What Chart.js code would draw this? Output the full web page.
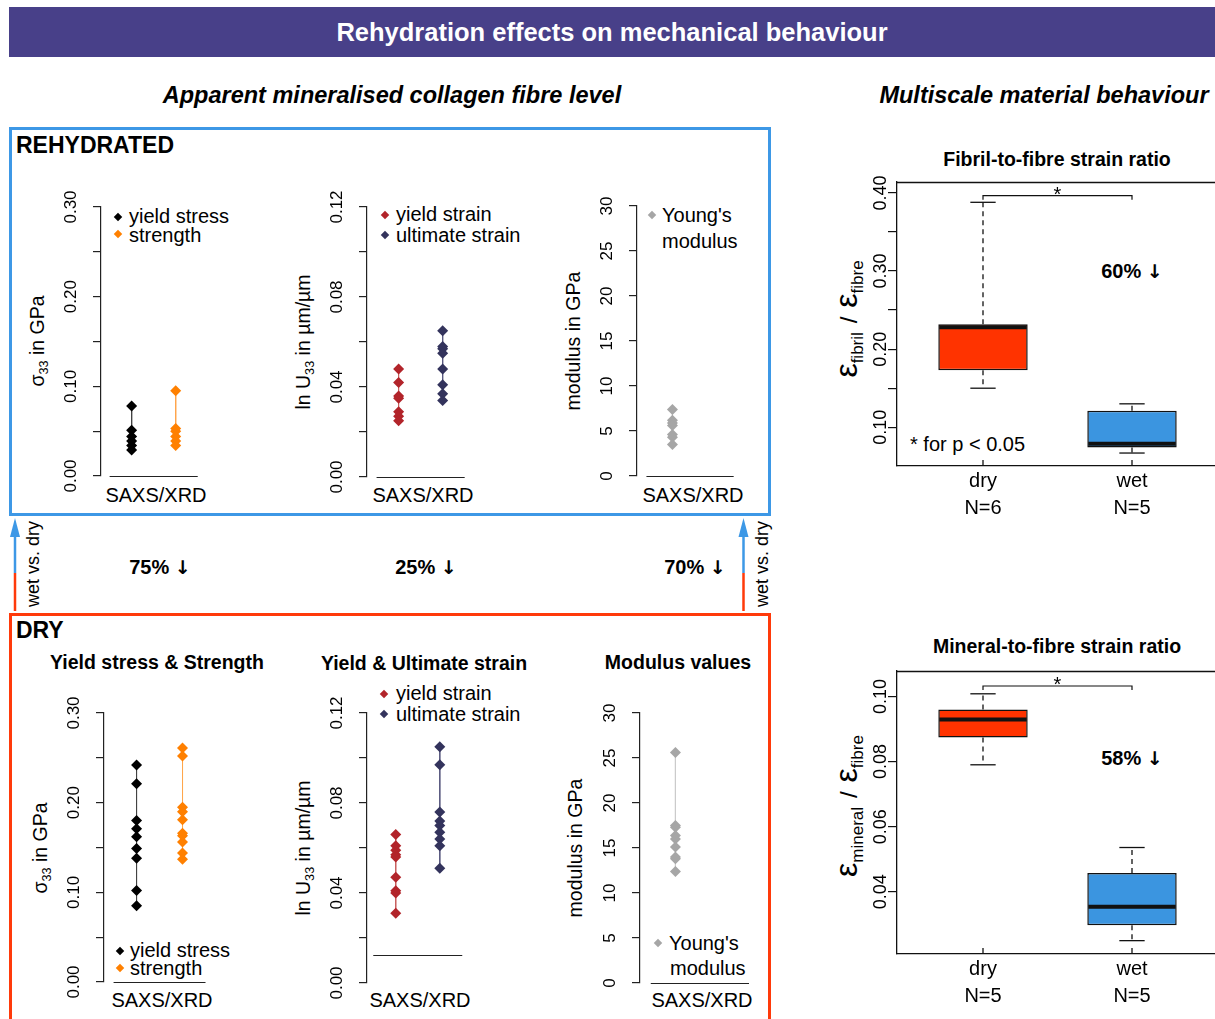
<!DOCTYPE html>
<html>
<head>
<meta charset="utf-8">
<title>Rehydration effects on mechanical behaviour</title>
<script src="https://cdn.jsdelivr.net/npm/chart.js@4.4.1/dist/chart.umd.min.js"></script>
<style>
  html, body { margin: 0; padding: 0; background: #fff; }
  #page { position: relative; width: 1215px; height: 1019px; overflow: hidden;
          font-family: 'Liberation Sans', Arial, sans-serif; color: #000; }
  .abs { position: absolute; }
  .txt { white-space: nowrap; line-height: 1; }
  .txt sub { font-size: 0.65em; vertical-align: -0.3em; line-height: 0; }
  .frame { position: absolute; box-sizing: border-box; border: 3px solid; }
  .eps { font-size: 32px; }
  .es { font-size: 17px; vertical-align: -6px; }
  .arr { font-family: 'DejaVu Sans', sans-serif; font-weight: bold; font-size: 19px; }
</style>
</head>
<body>
<div id="page">
  <div class="abs" style="left:9px;top:7px;width:1206px;height:50px;background:#484089;color:#fff;font-weight:bold;font-size:25.5px;line-height:50px;text-align:center;">Rehydration effects on mechanical behaviour</div>
  <div class="frame" style="left:9px;top:127px;width:762px;height:389px;border-color:#3d98e6;"></div>
  <div class="frame" style="left:9px;top:613px;width:762px;height:430px;border-color:#ff3a0a;"></div>
  <svg class="abs" style="left:0;top:0" width="1215" height="1019">
    <line x1="15" y1="534" x2="15" y2="573" stroke="#3d98e6" stroke-width="2.5"/>
    <line x1="15" y1="573" x2="15" y2="611" stroke="#ff3a0a" stroke-width="2.5"/>
    <polygon points="15,518 10,537 20,537" fill="#3d98e6"/>
    <line x1="743.5" y1="534" x2="743.5" y2="573" stroke="#3d98e6" stroke-width="2.5"/>
    <line x1="743.5" y1="573" x2="743.5" y2="611" stroke="#ff3a0a" stroke-width="2.5"/>
    <polygon points="743.5,518 738.5,537 748.5,537" fill="#3d98e6"/>
  </svg>
</div>
<script>
// ---- data ----
var wetYieldStress = [0.078, 0.051, 0.044, 0.039, 0.034, 0.029];
var wetStrength = [0.095, 0.053, 0.050, 0.044, 0.039, 0.034];
var wetYieldStrain = [0.048, 0.042, 0.036, 0.035, 0.029, 0.027, 0.025];
var wetUltimateStrain = [0.065, 0.058, 0.057, 0.055, 0.048, 0.041, 0.037, 0.034];
var wetModulus = [7.4, 6.2, 5.9, 5.6, 4.6, 4.3, 3.5];

var dryYieldStress = [0.242, 0.221, 0.180, 0.171, 0.162, 0.149, 0.138, 0.102, 0.085];
var dryStrength = [0.261, 0.252, 0.195, 0.190, 0.181, 0.166, 0.163, 0.156, 0.144, 0.137];
var dryYieldStrain = [0.066, 0.061, 0.059, 0.057, 0.056, 0.047, 0.041, 0.040, 0.031];
var dryUltimateStrain = [0.105, 0.097, 0.076, 0.072, 0.070, 0.067, 0.064, 0.061, 0.051];
var dryModulus = [25.6, 17.5, 17.3, 16.4, 16.0, 15.1, 14.0, 13.8, 12.4];

var stressTicks = [0, 0.05, 0.10, 0.15, 0.20, 0.25, 0.30];
var stressLabels = ['0.00', '', '0.10', '', '0.20', '', '0.30'];
var strainTicks = [0, 0.02, 0.04, 0.06, 0.08, 0.10, 0.12];
var strainLabels = ['0.00', '', '0.04', '', '0.08', '', '0.12'];
var modulusTicks = [0, 5, 10, 15, 20, 25, 30];
var modulusLabels = ['0', '5', '10', '15', '20', '25', '30'];

var boxGroups = ['dry', 'wet'];
var fibrilN = ['N=6', 'N=5'];
var fibrilLow = [0.150, 0.067];
var fibrilQ1 = [0.173, 0.074];
var fibrilMedian = [0.228, 0.079];
var fibrilQ3 = [0.232, 0.121];
var fibrilHigh = [0.388, 0.130];
var fibrilSignif = 0.3965;
var fibrilTicks = [0.10, 0.15, 0.20, 0.25, 0.30, 0.35, 0.40];
var fibrilLabels = ['0.10', '', '0.20', '', '0.30', '', '0.40'];

var mineralN = ['N=5', 'N=5'];
var mineralLow = [0.079, 0.025];
var mineralQ1 = [0.0874, 0.0297];
var mineralMedian = [0.0929, 0.0354];
var mineralQ3 = [0.096, 0.0458];
var mineralHigh = [0.1008, 0.0536];
var mineralSignif = 0.1032;
var mineralTicks = [0.04, 0.06, 0.08, 0.10];
var mineralLabels = ['0.04', '0.06', '0.08', '0.10'];

var boxColors = ['#ff3300', '#3b95e0'];

// ---- helpers ----
var page = document.getElementById('page');

function addText(x, y, html, css, anchor) {
    var d = document.createElement('div');
    d.className = 'abs txt';
    d.innerHTML = html;
    d.style.cssText += 'left:' + x + 'px;top:' + y + 'px;' + (css || '');
    if (anchor == 'left') {
        d.style.transform = 'translate(0,-50%)';
    } else if (anchor == 'rot') {
        d.style.transform = 'translate(-50%,-50%) rotate(-90deg)';
    } else {
        d.style.transform = 'translate(-50%,-50%)';
    }
    page.appendChild(d);
}

function addDiamond(x, y, color) {
    var m = document.createElement('div');
    m.className = 'abs';
    m.style.cssText = 'left:' + (x - 3) + 'px;top:' + (y - 3) + 'px;width:6px;height:6px;background:' + color + ';transform:rotate(45deg);';
    page.appendChild(m);
}

function addCanvas(left, top, w, h) {
    var c = document.createElement('canvas');
    c.width = Math.round(w);
    c.height = Math.round(h);
    c.className = 'abs';
    c.style.left = Math.round(left) + 'px';
    c.style.top = Math.round(top) + 'px';
    page.appendChild(c);
    return c;
}

// rotated y tick labels, like R's default axis text
var rotTicks = {
    id: 'rotTicks',
    afterDraw: function(chart, args, o) {
        var ys = chart.scales.y, ctx = chart.ctx;
        ctx.save();
        ctx.font = o.font;
        ctx.fillStyle = '#000';
        ctx.textAlign = 'center';
        ctx.textBaseline = 'middle';
        ys.ticks.forEach(function(t, i) {
            if (!o.labels[i]) return;
            ctx.save();
            ctx.translate(chart.chartArea.left - o.offset, ys.getPixelForValue(t.value));
            ctx.rotate(-Math.PI / 2);
            ctx.fillText(o.labels[i], 0, 0);
            ctx.restore();
        });
        ctx.restore();
    }
};

var baseLine = {
    id: 'baseLine',
    afterDatasetsDraw: function(chart, args, o) {
        var xs = chart.scales.x, ys = chart.scales.y, ctx = chart.ctx;
        var y = Math.round(ys.getPixelForValue(o.y)) + 0.5;
        ctx.save();
        ctx.strokeStyle = '#222';
        ctx.lineWidth = 1.2;
        ctx.beginPath();
        ctx.moveTo(xs.getPixelForValue(o.x0), y);
        ctx.lineTo(xs.getPixelForValue(o.x1), y);
        ctx.stroke();
        ctx.restore();
    }
};

function stripChart(cfg) {
    var L = 70, T = 20, B = 20, W = 130;
    var unit = cfg.p2 ? cfg.p2 - cfg.p1 : 46;
    var xmin = 1 - (cfg.p1 - cfg.axisX) / unit;
    var c = addCanvas(cfg.axisX - L, cfg.yTop - T, L + W, T + (cfg.yBot - cfg.yTop) + B);
    var datasets = cfg.series.map(function(s, i) {
        return {
            data: s.values.map(function(v) { return {x: i + 1, y: v}; }),
            showLine: true,
            borderColor: s.line,
            borderWidth: 1,
            pointStyle: 'rectRot',
            pointRadius: 5.5,
            pointBackgroundColor: s.color,
            pointBorderWidth: 0,
            clip: false
        };
    });
    new Chart(c, {
        type: 'scatter',
        data: {datasets: datasets},
        options: {
            responsive: false,
            animation: false,
            events: [],
            layout: {padding: {left: 0, right: 0, top: T, bottom: B}},
            plugins: {
                legend: {display: false},
                tooltip: {enabled: false},
                rotTicks: {labels: cfg.labels, offset: 30, font: "17px 'Liberation Sans Narrow', 'Liberation Sans', sans-serif"},
                baseLine: {y: cfg.base[0], x0: cfg.base[1], x1: cfg.base[2]}
            },
            scales: {
                x: {type: 'linear', display: false, min: xmin, max: xmin + W / unit},
                y: {
                    min: cfg.ticks[0],
                    max: cfg.ticks[cfg.ticks.length - 1],
                    afterFit: function(s) { s.width = L; },
                    afterBuildTicks: function(s) { s.ticks = cfg.ticks.map(function(v) { return {value: v}; }); },
                    ticks: {display: false},
                    grid: {display: true, drawOnChartArea: false, drawTicks: true, tickLength: 8, color: '#222', lineWidth: 1.2},
                    border: {display: true, color: '#222', width: 1.2}
                }
            }
        },
        plugins: [rotTicks, baseLine]
    });
}

var boxParts = {
    id: 'boxParts',
    afterDatasetsDraw: function(chart, args, o) {
        var xs = chart.scales.x, ys = chart.scales.y, ctx = chart.ctx, a = chart.chartArea;
        function seg(x0, y0, x1, y1) {
            ctx.beginPath();
            ctx.moveTo(x0, y0);
            ctx.lineTo(x1, y1);
            ctx.stroke();
        }
        ctx.save();
        ctx.strokeStyle = '#111';
        o.med.forEach(function(m, i) {
            var x = xs.getPixelForValue(i + 1);
            var hw = xs.getPixelForValue(i + 1.3) - x;
            var cw = xs.getPixelForValue(i + 1.085) - x;
            var yHi = ys.getPixelForValue(o.high[i]), yLo = ys.getPixelForValue(o.low[i]);
            ctx.lineWidth = 1.3;
            ctx.setLineDash([5, 4]);
            seg(x, ys.getPixelForValue(o.q3[i]), x, yHi);
            seg(x, ys.getPixelForValue(o.q1[i]), x, yLo);
            ctx.setLineDash([]);
            seg(x - cw, yHi, x + cw, yHi);
            seg(x - cw, yLo, x + cw, yLo);
            ctx.lineWidth = 4;
            var ym = ys.getPixelForValue(m);
            seg(x - hw + 1, ym, x + hw - 1, ym);
            // x tick mark inside the frame
            ctx.lineWidth = 1.3;
            seg(x, a.bottom, x, a.bottom - 6);
        });
        // top of the frame
        ctx.lineWidth = 1.3;
        seg(a.left, a.top + 0.5, a.right, a.top + 0.5);
        // significance bracket
        var yb = ys.getPixelForValue(o.signif);
        var x1 = xs.getPixelForValue(1), x2 = xs.getPixelForValue(2);
        ctx.lineWidth = 1.2;
        ctx.beginPath();
        ctx.moveTo(x1, yb + 4);
        ctx.lineTo(x1, yb);
        ctx.lineTo(x2, yb);
        ctx.lineTo(x2, yb + 4);
        ctx.stroke();
        ctx.fillStyle = '#000';
        ctx.font = "20px 'Liberation Sans', sans-serif";
        ctx.textAlign = 'center';
        ctx.textBaseline = 'alphabetic';
        ctx.fillText('*', (x1 + x2) / 2, yb + 5);
        ctx.restore();
    }
};

function boxChart(cfg) {
    var L = 77, T = 12, B = 60;
    var W = 1215 - cfg.left;
    var unit = cfg.p2 - cfg.p1;
    var xmin = 1 - (cfg.p1 - cfg.left) / unit;
    var c = addCanvas(cfg.left - L, cfg.top - T, L + W, T + (cfg.bottom - cfg.top) + B);
    new Chart(c, {
        type: 'bar',
        data: {
            datasets: [{
                data: boxGroups.map(function(g, i) { return {x: i + 1, y: [cfg.q1[i], cfg.q3[i]]}; }),
                backgroundColor: boxColors,
                borderColor: '#111',
                borderWidth: 1.5,
                borderSkipped: false,
                barPercentage: 0.6,
                categoryPercentage: 1
            }]
        },
        options: {
            responsive: false,
            animation: false,
            events: [],
            layout: {padding: {left: 0, right: 0, top: T, bottom: 0}},
            plugins: {
                legend: {display: false},
                tooltip: {enabled: false},
                rotTicks: {labels: cfg.labels, offset: 16, font: "18px 'Liberation Sans', sans-serif"},
                boxParts: {med: cfg.med, q1: cfg.q1, q3: cfg.q3, low: cfg.low, high: cfg.high, signif: cfg.signif}
            },
            scales: {
                x: {
                    type: 'linear',
                    offset: false,
                    min: xmin,
                    max: xmin + W / unit,
                    afterFit: function(s) { s.height = B; },
                    afterBuildTicks: function(s) { s.ticks = boxGroups.map(function(g, i) { return {value: i + 1}; }); },
                    ticks: {
                        callback: function(v, i) { return [boxGroups[i], cfg.n[i]]; },
                        font: {size: 20, lineHeight: 1.35},
                        color: '#000',
                        padding: 2,
                        maxRotation: 0,
                        autoSkip: false
                    },
                    grid: {display: false, drawTicks: false},
                    border: {display: true, color: '#111', width: 1.3}
                },
                y: {
                    min: cfg.min,
                    max: cfg.max,
                    afterFit: function(s) { s.width = L; },
                    afterBuildTicks: function(s) { s.ticks = cfg.ticks.map(function(v) { return {value: v}; }); },
                    ticks: {display: false},
                    grid: {display: true, drawOnChartArea: false, drawTicks: true, tickLength: 9, color: '#111', lineWidth: 1.2},
                    border: {display: true, color: '#111', width: 1.3}
                }
            }
        },
        plugins: [rotTicks, boxParts]
    });
}

// ---- static texts ----
var B20 = 'font-weight:bold;font-size:19.5px;';
var ARROW = ' <span class="arr">&darr;</span>';
addText(392, 96, 'Apparent mineralised collagen fibre level', 'font-weight:bold;font-style:italic;font-size:23.5px;');
addText(1044, 96, 'Multiscale material behaviour', 'font-weight:bold;font-style:italic;font-size:23.5px;');
addText(16, 145, 'REHYDRATED', 'font-weight:bold;font-size:23px;', 'left');
addText(16, 630, 'DRY', 'font-weight:bold;font-size:23px;', 'left');
addText(33, 564, 'wet vs. dry', 'font-size:18px;', 'rot');
addText(762, 564, 'wet vs. dry', 'font-size:18px;', 'rot');
addText(160, 567, '75%' + ARROW, 'font-weight:bold;font-size:20px;');
addText(426, 567, '25%' + ARROW, 'font-weight:bold;font-size:20px;');
addText(695, 567, '70%' + ARROW, 'font-weight:bold;font-size:20px;');

// panel titles
addText(157, 663, 'Yield stress &amp; Strength', B20);
addText(424, 664, 'Yield &amp; Ultimate strain', B20);
addText(678, 663, 'Modulus values', B20);
addText(1057, 160, 'Fibril-to-fibre strain ratio', B20);
addText(1057, 647, 'Mineral-to-fibre strain ratio', B20);

// axis titles
var T20 = 'font-size:19.5px;';
addText(38, 341, '&sigma;<sub>33</sub> in GPa', T20, 'rot');
addText(304, 342, 'ln U<sub>33</sub> in &micro;m/&micro;m', T20, 'rot');
addText(574, 341, 'modulus in GPa', T20, 'rot');
addText(41, 848, '&sigma;<sub>33</sub> in GPa', T20, 'rot');
addText(304, 848, 'ln U<sub>33</sub> in &micro;m/&micro;m', T20, 'rot');
addText(576, 848, 'modulus in GPa', T20, 'rot');
addText(848, 319, '<span class="eps">&epsilon;</span><span class="es">fibril</span>&nbsp;&nbsp;<span style="font-size:24px">/</span>&nbsp;&nbsp;<span class="eps">&epsilon;</span><span class="es">fibre</span>', '', 'rot');
addText(848, 806, '<span class="eps">&epsilon;</span><span class="es">mineral</span>&nbsp;&nbsp;<span style="font-size:24px">/</span>&nbsp;&nbsp;<span class="eps">&epsilon;</span><span class="es">fibre</span>', '', 'rot');

// x labels of the strip plots
var R20 = 'font-size:20px;';
addText(156, 495, 'SAXS/XRD', R20);
addText(423, 495, 'SAXS/XRD', R20);
addText(693, 495, 'SAXS/XRD', R20);
addText(162, 1000, 'SAXS/XRD', R20);
addText(420, 1000, 'SAXS/XRD', R20);
addText(702, 1000, 'SAXS/XRD', R20);

// legends
addDiamond(118, 217, '#000'); addText(129, 216, 'yield stress', R20, 'left');
addDiamond(118, 234, '#ff8000'); addText(129, 235, 'strength', R20, 'left');
addDiamond(385, 215, '#b2242a'); addText(396, 214, 'yield strain', R20, 'left');
addDiamond(385, 235, '#33335c'); addText(396, 235, 'ultimate strain', R20, 'left');
addDiamond(652, 215, '#a6a6a6'); addText(662, 215, "Young's", R20, 'left');
addText(662, 241, 'modulus', R20, 'left');
addDiamond(120, 951, '#000'); addText(130, 950, 'yield stress', R20, 'left');
addDiamond(120, 968, '#ff8000'); addText(130, 968, 'strength', R20, 'left');
addDiamond(384, 694, '#b2242a'); addText(396, 693, 'yield strain', R20, 'left');
addDiamond(384, 714, '#33335c'); addText(396, 714, 'ultimate strain', R20, 'left');
addDiamond(658, 943, '#a6a6a6'); addText(669, 943, "Young's", R20, 'left');
addText(670, 968, 'modulus', R20, 'left');

// box plot annotations
addText(1132, 271, '60%' + ARROW, 'font-weight:bold;font-size:20px;');
addText(1132, 758, '58%' + ARROW, 'font-weight:bold;font-size:20px;');
addText(910, 444, '* for p &lt; 0.05', R20, 'left');

// ---- charts ----
stripChart({axisX: 101, yTop: 207, yBot: 476, p1: 133, p2: 179, ticks: stressTicks, labels: stressLabels, base: [0, 0.5, 2.5],
    series: [{values: wetYieldStress, color: '#000', line: '#444'}, {values: wetStrength, color: '#ff8000', line: '#ffa64d'}]});
stripChart({axisX: 367, yTop: 207, yBot: 477, p1: 400, p2: 446, ticks: strainTicks, labels: strainLabels, base: [0, 0.5, 2.5],
    series: [{values: wetYieldStrain, color: '#b2242a', line: '#c8605f'}, {values: wetUltimateStrain, color: '#33335c', line: '#5a5a80'}]});
stripChart({axisX: 637, yTop: 206, yBot: 476, p1: 674, ticks: modulusTicks, labels: modulusLabels, base: [0, 0.41, 2.39],
    series: [{values: wetModulus, color: '#a6a6a6', line: '#cccccc'}]});
stripChart({axisX: 104, yTop: 713, yBot: 982, p1: 138, p2: 186, ticks: stressTicks, labels: stressLabels, base: [0, 0.5, 2.5],
    series: [{values: dryYieldStress, color: '#000', line: '#444'}, {values: dryStrength, color: '#ff8000', line: '#ffa64d'}]});
stripChart({axisX: 367, yTop: 713, yBot: 983, p1: 397, p2: 443, ticks: strainTicks, labels: strainLabels, base: [0.0123, 0.49, 2.51],
    series: [{values: dryYieldStrain, color: '#b2242a', line: '#c8605f'}, {values: dryUltimateStrain, color: '#33335c', line: '#5a5a80'}]});
stripChart({axisX: 640, yTop: 713, yBot: 983, p1: 677, ticks: modulusTicks, labels: modulusLabels, base: [0, 0.44, 2.67],
    series: [{values: dryModulus, color: '#a6a6a6', line: '#cccccc'}]});

boxChart({left: 897, top: 182, bottom: 466, p1: 983, p2: 1132, min: 0.0504, max: 0.414, ticks: fibrilTicks, labels: fibrilLabels,
    n: fibrilN, low: fibrilLow, q1: fibrilQ1, med: fibrilMedian, q3: fibrilQ3, high: fibrilHigh, signif: fibrilSignif});
boxChart({left: 897, top: 671, bottom: 954, p1: 983, p2: 1132, min: 0.0209, max: 0.1078, ticks: mineralTicks, labels: mineralLabels,
    n: mineralN, low: mineralLow, q1: mineralQ1, med: mineralMedian, q3: mineralQ3, high: mineralHigh, signif: mineralSignif});
</script>
</body>
</html>
